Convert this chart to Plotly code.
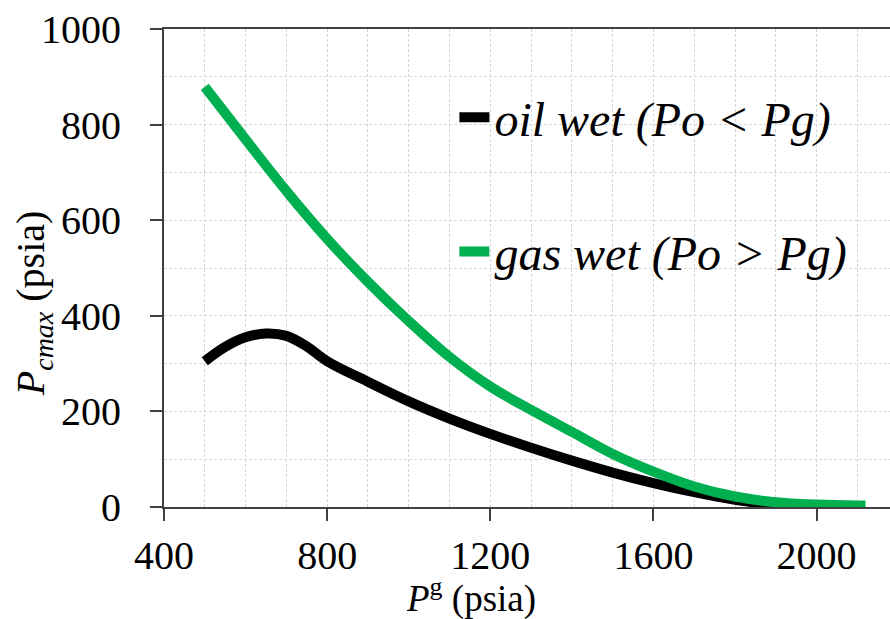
import plotly.graph_objects as go

# Gas-phase pressure (psia) and maximum capillary pressure (psia)
pg_oil = [500, 550, 600, 650, 700, 750, 800, 900, 1000, 1100, 1200, 1300,
          1400, 1500, 1600, 1700, 1800, 1900, 1940]
pc_oil = [305, 335, 355, 363, 358, 336, 305, 262, 221, 185, 153, 124,
          97, 72, 50, 31, 15, 4, 0]

pg_gas = [500, 600, 700, 800, 900, 1000, 1100, 1200, 1300, 1400, 1500,
          1600, 1700, 1800, 1900, 2000, 2100, 2120]
pc_gas = [879, 769, 661, 561, 471, 389, 314, 252, 203, 157, 111,
          74, 43, 22, 10, 5, 3, 3]

oil_label = "oil wet (Po < Pg)"
gas_label = "gas wet (Po > Pg)"

x_ticks = [400, 800, 1200, 1600, 2000]
y_ticks = [0, 200, 400, 600, 800, 1000]

FONT = "Liberation Serif, Times New Roman, serif"
GREEN = "#00B050"

fig = go.Figure()
fig.add_trace(go.Scatter(
    x=pg_oil, y=pc_oil, mode="lines", name=f"<i>{oil_label}</i>",
    line=dict(color="black", width=10, shape="spline", smoothing=1.0),
    legend="legend",
))
fig.add_trace(go.Scatter(
    x=pg_gas, y=pc_gas, mode="lines", name=f"<i>{gas_label}</i>",
    line=dict(color=GREEN, width=10, shape="spline", smoothing=1.0),
    legend="legend2",
))

axis_common = dict(
    showline=True, linecolor="#404040", linewidth=2,
    ticks="outside", ticklen=12, tickwidth=1.5, tickcolor="#404040",
    tickfont=dict(family=FONT, size=40, color="black"),
    showgrid=True, gridcolor="#d6d6d6", gridwidth=1, griddash="3px,2px",
    zeroline=False,
)
minor_grid = dict(dtick=100, tick0=0, showgrid=True, gridcolor="#d6d6d6",
                  griddash="3px,2px", ticks="")

fig.update_xaxes(range=[400, 2180], tickvals=x_ticks, minor=minor_grid,
                 mirror=True, ticklabelstandoff=0, **axis_common)
fig.update_yaxes(range=[0, 1000], tickvals=y_ticks, minor=minor_grid,
                 ticklabelstandoff=21, **axis_common)

legend_style = dict(
    font=dict(family=FONT, size=48, color="black"),
    bgcolor="rgba(0,0,0,0)", itemwidth=30, xanchor="left", yanchor="middle",
)
fig.update_layout(
    width=890, height=619,
    margin=dict(l=164, r=0, t=29, b=112),
    paper_bgcolor="white", plot_bgcolor="white",
    showlegend=True,
    legend=dict(x=0.40, y=0.815, **legend_style),
    legend2=dict(x=0.40, y=0.534, **legend_style),
    annotations=[
        dict(text="<i>P</i><sup>g</sup> (psia)", xref="paper", yref="paper",
             x=0.423, y=-0.186, xanchor="center", yanchor="middle",
             showarrow=False, font=dict(family=FONT, size=37, color="black")),
        dict(text="<i>P</i><sub><i>cmax</i></sub> (psia)", xref="paper", yref="paper",
             x=-0.18, y=0.427, xanchor="center", yanchor="middle", textangle=-90,
             showarrow=False, font=dict(family=FONT, size=40, color="black")),
    ],
)

fig.write_html("out.html")
